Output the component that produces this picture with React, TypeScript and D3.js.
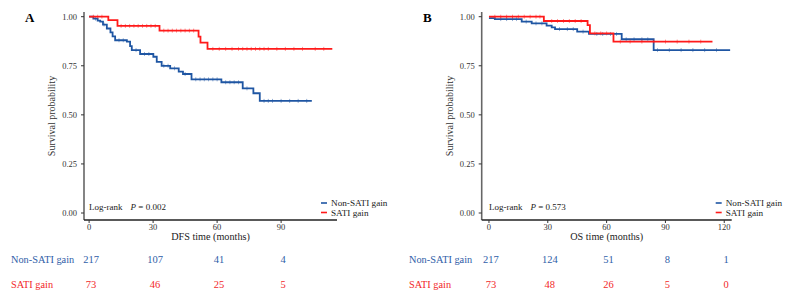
import React from "react";
import * as d3 from "d3";

// Kaplan–Meier step data: [time (months), survival probability]
const dfsNonSati: [number, number][] = [
  [0, 1], [2, 0.99], [4, 0.98], [5.2, 0.975], [6.5, 0.96], [8.3, 0.94], [10, 0.92], [11, 0.9],
  [12.2, 0.88], [17.7, 0.873], [19.2, 0.85], [20, 0.83], [23.9, 0.81], [30.1, 0.796],
  [31.7, 0.77], [34, 0.75], [38, 0.737], [42, 0.72], [44, 0.708], [48, 0.681],
  [62, 0.666], [72, 0.635], [77, 0.61], [80, 0.571], [104.4, 0.571],
];
const dfsSati: [number, number][] = [
  [0, 1], [9, 0.983], [13.3, 0.953], [33, 0.929], [51.3, 0.898], [52.2, 0.868], [55.5, 0.836], [114, 0.836],
];
const osNonSati: [number, number][] = [
  [0, 0.993], [3, 0.988], [16.7, 0.975], [21.8, 0.966], [29.4, 0.955], [32, 0.946], [33.7, 0.937],
  [45, 0.924], [51, 0.912], [67.7, 0.885], [84, 0.83], [123, 0.83],
];
const osSati: [number, number][] = [
  [0, 1], [28, 0.978], [50.3, 0.957], [51.5, 0.915], [63.5, 0.873], [114, 0.873],
];

// Censoring times
const dfsNonSatiCensor = [3, 7, 14, 16, 22, 26, 28, 35, 37, 40, 45, 50, 52, 54, 56, 58, 60, 64, 66, 68, 70, 74, 82, 84, 86, 90, 94, 98, 102];
const dfsSatiCensor = [2, 4, 6, 15, 17, 19, 21, 23, 25, 27, 29, 31, 35, 37, 39, 41, 43, 45, 47, 49, 58, 61, 64, 67, 70, 72, 74, 76, 78, 80, 82, 84, 88, 92, 96, 100, 106, 110];
const osNonSatiCensor = [6, 9, 12, 14, 19, 24, 27, 36, 40, 43, 48, 55, 58, 62, 65, 70, 74, 78, 81, 86, 92, 98, 104, 110, 116];
const osSatiCensor = [3, 6, 9, 12, 15, 18, 21, 24, 26, 32, 35, 38, 41, 44, 47, 54, 57, 60, 67, 72, 78, 84, 90, 96, 102, 108];

const yTicks = [0, 0.25, 0.5, 0.75, 1];
const dfsTicks = [0, 30, 60, 90];
const osTicks = [0, 30, 60, 90, 120];
const dfsRiskNon = [217, 107, 41, 4];
const dfsRiskSati = [73, 46, 25, 5];
const osRiskNon = [217, 124, 51, 8, 1];
const osRiskSati = [73, 48, 26, 5, 0];

const groupNames = ["Non-SATI gain", "SATI gain"];

const BLUE = "#1f56a3";
const RED = "#ff1a1a";
const BLUE_TXT = "#2f5ea8";
const RED_TXT = "#f2282a";
const FONT = "Liberation Serif, Times New Roman, serif";

type PanelProps = {
  letter: string;
  x0: number;
  xDomain: [number, number];
  xRange: [number, number];
  ticks: number[];
  xTitle: string;
  pValue: string;
  curves: { data: [number, number][]; censor: number[]; color: string }[];
  riskNon: number[];
  riskSati: number[];
};

function stepValue(data: [number, number][], t: number) {
  let v = data[0][1];
  for (const [tt, s] of data) {
    if (tt <= t) v = s;
  }
  return v;
}

function Panel({ letter, x0, xDomain, xRange, ticks, xTitle, pValue, curves, riskNon, riskSati }: PanelProps) {
  const x = d3.scaleLinear().domain(xDomain).range(xRange);
  const y = d3.scaleLinear().domain([0, 1]).range([213, 16.7]);
  const line = d3
    .line<[number, number]>()
    .x((d) => x(d[0]))
    .y((d) => y(d[1]))
    .curve(d3.curveStepAfter);
  const axisY = 220;
  const axisTop = 12;
  const left = xRange[0];
  const right = xRange[1];
  const legendX = right - 16;

  return (
    <g fontFamily={FONT}>
      <text x={x0 + 25} y={22} fontSize={13} fontWeight="bold">
        {letter}
      </text>
      {/* axes */}
      <line x1={left} x2={left} y1={axisTop} y2={axisY} stroke="#666" strokeWidth={1.6} />
      <line x1={left} x2={right} y1={axisY} y2={axisY} stroke="#222" strokeWidth={1.4} />
      {yTicks.map((t) => (
        <g key={t}>
          <line x1={left - 3} x2={left} y1={y(t)} y2={y(t)} stroke="#333" />
          <text x={left - 7} y={y(t)} dy="0.33em" textAnchor="end" fontSize={8.5} fill="#333">
            {t.toFixed(2)}
          </text>
        </g>
      ))}
      {ticks.map((t) => (
        <g key={t}>
          <line x1={x(t)} x2={x(t)} y1={axisY} y2={axisY + 3} stroke="#333" />
          <text x={x(t)} y={axisY + 10} textAnchor="middle" fontSize={8.5} fill="#333">
            {t}
          </text>
        </g>
      ))}
      <text
        transform={`translate(${left - 29},${(axisTop + axisY) / 2}) rotate(-90)`}
        textAnchor="middle"
        fontSize={10}
        fill="#333"
      >
        Survival probability
      </text>
      <text x={(left + right) / 2} y={axisY + 20} textAnchor="middle" fontSize={10.2} fill="#222">
        {xTitle}
      </text>
      {/* curves */}
      {curves.map((c, i) => (
        <g key={i}>
          <path d={line(c.data) ?? ""} fill="none" stroke={c.color} strokeWidth={1.8} />
          {c.censor.map((t) => (
            <line
              key={t}
              x1={x(t)}
              x2={x(t)}
              y1={y(stepValue(c.data, t)) - 2}
              y2={y(stepValue(c.data, t)) + 2}
              stroke={c.color}
              strokeWidth={0.8}
              opacity={0.6}
            />
          ))}
        </g>
      ))}
      {/* log-rank annotation */}
      <text x={x(0)} y={207} dy="0.33em" fontSize={9} fill="#222">
        Log-rank
        <tspan dx={8} fontStyle="italic">P</tspan>
        <tspan> = {pValue}</tspan>
      </text>
      {/* legend */}
      {[BLUE, RED].map((col, i) => (
        <g key={i}>
          <line x1={legendX} x2={legendX + 6} y1={203 + i * 9.5} y2={203 + i * 9.5} stroke={col} strokeWidth={1.6} />
          <text x={legendX + 10} y={203 + i * 9.5} dy="0.33em" fontSize={9.2} fill="#222">
            {groupNames[i]}
          </text>
        </g>
      ))}
      {/* number at risk */}
      <text x={x0 + 11} y={260} dy="0.33em" fontSize={10.3} fill={BLUE_TXT}>
        {groupNames[0]}
      </text>
      <text x={x0 + 11} y={285} dy="0.33em" fontSize={10.3} fill={RED_TXT}>
        {groupNames[1]}
      </text>
      {ticks.map((t, i) => (
        <g key={t}>
          <text x={x(t) + 2} y={260} dy="0.33em" textAnchor="middle" fontSize={10.5} fill={BLUE_TXT}>
            {riskNon[i]}
          </text>
          <text x={x(t) + 2} y={285} dy="0.33em" textAnchor="middle" fontSize={10.5} fill={RED_TXT}>
            {riskSati[i]}
          </text>
        </g>
      ))}
    </g>
  );
}

export default function App() {
  return (
    <svg width={790} height={300} style={{ position: "absolute", left: 0, top: 0, background: "#fff" }}>
      <Panel
        letter="A"
        x0={0}
        xDomain={[-2.4, 116.2]}
        xRange={[84, 337]}
        ticks={dfsTicks}
        xTitle="DFS time (months)"
        pValue="0.002"
        curves={[
          { data: dfsNonSati, censor: dfsNonSatiCensor, color: BLUE },
          { data: dfsSati, censor: dfsSatiCensor, color: RED },
        ]}
        riskNon={dfsRiskNon}
        riskSati={dfsRiskSati}
      />
      <Panel
        letter="B"
        x0={398}
        xDomain={[-3.7, 123.8]}
        xRange={[481.7, 731.7]}
        ticks={osTicks}
        xTitle="OS time (months)"
        pValue="0.573"
        curves={[
          { data: osNonSati, censor: osNonSatiCensor, color: BLUE },
          { data: osSati, censor: osSatiCensor, color: RED },
        ]}
        riskNon={osRiskNon}
        riskSati={osRiskSati}
      />
    </svg>
  );
}
